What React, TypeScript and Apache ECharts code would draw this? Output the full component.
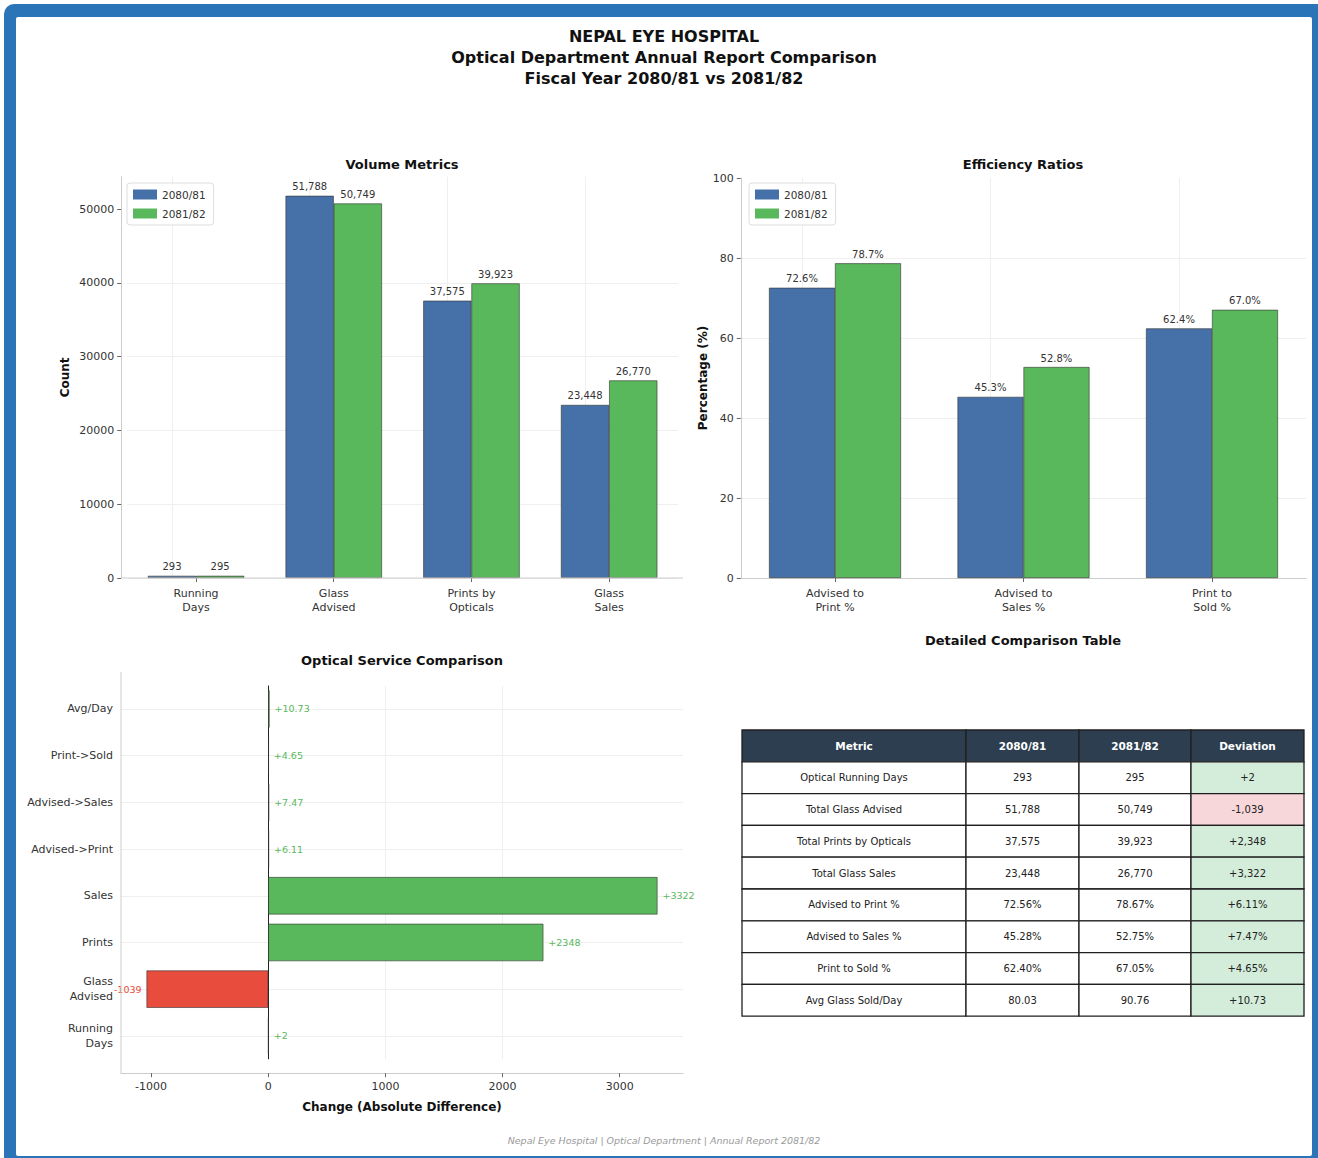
import React, { useEffect, useRef } from "react";
import * as echarts from "echarts";

const FONT = "DejaVu Sans";

// ---- Volume Metrics ----
const volumeCategories = ["Running\nDays", "Glass\nAdvised", "Prints by\nOpticals", "Glass\nSales"];
const volume2080 = [293, 51788, 37575, 23448];
const volume2081 = [295, 50749, 39923, 26770];
const volumeTicks = [0, 10000, 20000, 30000, 40000, 50000];

// ---- Efficiency Ratios ----
const ratioCategories = ["Advised to\nPrint %", "Advised to\nSales %", "Print to\nSold %"];
const ratio2080 = [72.56, 45.28, 62.4];
const ratio2081 = [78.67, 52.75, 67.05];
const ratioTicks = [0, 20, 40, 60, 80, 100];

// ---- Optical Service Comparison ----
const changeCategories = [
  "Running\nDays",
  "Glass\nAdvised",
  "Prints",
  "Sales",
  "Advised->Print",
  "Advised->Sales",
  "Print->Sold",
  "Avg/Day",
];
const changeValues = [2, -1039, 2348, 3322, 6.11, 7.47, 4.65, 10.73];
const changeTicks = [-1000, 0, 1000, 2000, 3000];

// ---- Detailed Comparison Table ----
const tableHeader = ["Metric", "2080/81", "2081/82", "Deviation"];
const tableMetrics = [
  "Optical Running Days",
  "Total Glass Advised",
  "Total Prints by Opticals",
  "Total Glass Sales",
  "Advised to Print %",
  "Advised to Sales %",
  "Print to Sold %",
  "Avg Glass Sold/Day",
];
const table2080 = ["293", "51,788", "37,575", "23,448", "72.56%", "45.28%", "62.40%", "80.03"];
const table2081 = ["295", "50,749", "39,923", "26,770", "78.67%", "52.75%", "67.05%", "90.76"];
const tableDeviation = ["+2", "-1,039", "+2,348", "+3,322", "+6.11%", "+7.47%", "+4.65%", "+10.73"];

const BLUE = "#4670a8";
const GREEN = "#5ab85c";
const RED = "#e74c3c";
const AXIS_GRAY = "#cccccc";
const GRID_GRAY = "#efefef";
const TEXT = "#333333";

function buildTable() {
  const colX = [742, 966, 1079, 1191, 1304];
  const top = 730;
  const rowH = 31.8;
  const els: any[] = [];
  const rows = [tableHeader].concat(
    tableMetrics.map((m, i) => [m, table2080[i], table2081[i], tableDeviation[i]])
  );
  rows.forEach((row, r) => {
    row.forEach((txt, c) => {
      let fill = "#ffffff";
      if (r === 0) fill = "#2c3e50";
      else if (c === 3) fill = txt.startsWith("-") ? "#f8d7da" : "#d4edda";
      const x = colX[c];
      const w = colX[c + 1] - colX[c];
      const y = top + r * rowH;
      els.push({
        type: "rect",
        shape: { x, y, width: w, height: rowH },
        style: { fill, stroke: "#1f1f1f", lineWidth: 1.3 },
        z: 5,
      });
      els.push({
        type: "text",
        x: x + w / 2,
        y: y + rowH / 2,
        style: {
          text: txt,
          align: "center",
          verticalAlign: "middle",
          fill: r === 0 ? "#ffffff" : "#222222",
          fontFamily: FONT,
          fontSize: r === 0 ? 10.5 : 10,
          fontWeight: r === 0 ? "bold" : "normal",
        },
        z: 6,
      });
    });
  });
  return els;
}

function titleText(text: string, x: number, y: number, size: number, extra: any = {}) {
  return {
    type: "text",
    x,
    y,
    z: 10,
    style: {
      text,
      align: "center",
      verticalAlign: "middle",
      fill: "#111111",
      fontFamily: FONT,
      fontSize: size,
      fontWeight: "bold",
      ...extra,
    },
  };
}

function gridMarkLine(axis: "xAxis" | "yAxis", cats: string[]) {
  return {
    silent: true,
    symbol: "none",
    z: 1,
    label: { show: false },
    lineStyle: { color: GRID_GRAY, type: "solid", width: 1 },
    data: cats.map((c) => ({ [axis]: c })),
  };
}

const plainNum = (v: any) => String(v);
const tickLabel = { color: TEXT, fontFamily: FONT, fontSize: 11, formatter: plainNum };
const catLabel = { color: TEXT, fontFamily: FONT, fontSize: 11 };
const barLabel = { show: true, position: "top", distance: 4, color: TEXT, fontFamily: FONT, fontSize: 10 };

const legendBase = {
  top: 183,
  orient: "vertical",
  data: ["2080/81", "2081/82"],
  icon: "rect",
  itemWidth: 24,
  itemHeight: 10,
  itemGap: 8,
  itemStyle: { borderWidth: 0 },
  backgroundColor: "#ffffff",
  borderColor: "#dddddd",
  borderWidth: 1,
  borderRadius: 3,
  padding: [6, 8, 6, 6],
  textStyle: { color: TEXT, fontFamily: FONT, fontSize: 10.5 },
};

function buildOption() {
  return {
    animation: false,
    backgroundColor: "#ffffff",
    textStyle: { fontFamily: FONT },
    grid: [
      { left: 127.2, top: 176.7, width: 550.8, height: 401.3 },
      { left: 740.75, top: 178, width: 565.5, height: 400 },
      { left: 121, top: 685.6, width: 562, height: 373.6 },
    ],
    legend: [
      { ...legendBase, left: 127 },
      { ...legendBase, left: 749 },
    ],
    xAxis: [
      {
        type: "category",
        gridIndex: 0,
        data: volumeCategories,
        axisLine: { show: false },
        axisTick: { show: true, alignWithLabel: true, length: 4, lineStyle: { color: "#666" } },
        axisLabel: { ...catLabel, margin: 8, lineHeight: 14 },
        splitLine: { show: false },
      },
      {
        type: "category",
        gridIndex: 1,
        data: ratioCategories,
        axisLine: { show: true, lineStyle: { color: AXIS_GRAY } },
        axisTick: { show: true, alignWithLabel: true, length: 4, lineStyle: { color: "#666" } },
        axisLabel: { ...catLabel, margin: 8, lineHeight: 14 },
        splitLine: { show: false },
      },
      {
        type: "value",
        gridIndex: 2,
        min: -1257,
        max: 3540,
        offset: 14,
        name: "Change (Absolute Difference)",
        nameLocation: "middle",
        nameGap: 28,
        nameTextStyle: { color: "#111", fontFamily: FONT, fontSize: 12, fontWeight: "bold" },
        axisLine: { show: true, lineStyle: { color: AXIS_GRAY } },
        axisTick: { show: true, length: 4, lineStyle: { color: "#666" }, customValues: changeTicks },
        axisLabel: { ...tickLabel, margin: 8, customValues: changeTicks },
        splitLine: { show: true, showMinLine: false, showMaxLine: false, lineStyle: { color: GRID_GRAY } },
      },
    ],
    yAxis: [
      {
        type: "value",
        gridIndex: 0,
        min: 0,
        max: 54377,
        interval: 10000,
        offset: 6,
        name: "Count",
        nameLocation: "middle",
        nameGap: 50,
        nameTextStyle: { color: "#111", fontFamily: FONT, fontSize: 12, fontWeight: "bold" },
        axisLine: { show: true, lineStyle: { color: AXIS_GRAY } },
        axisTick: { show: true, length: 4, lineStyle: { color: "#666" }, customValues: volumeTicks },
        axisLabel: { ...tickLabel, margin: 7, customValues: volumeTicks },
        splitLine: { show: true, showMaxLine: false, lineStyle: { color: GRID_GRAY } },
      },
      {
        type: "value",
        gridIndex: 1,
        min: 0,
        max: 100,
        interval: 20,
        name: "Percentage (%)",
        nameLocation: "middle",
        nameGap: 32,
        nameTextStyle: { color: "#111", fontFamily: FONT, fontSize: 12, fontWeight: "bold" },
        axisLine: { show: true, lineStyle: { color: AXIS_GRAY } },
        axisTick: { show: true, length: 4, lineStyle: { color: "#666" }, customValues: ratioTicks },
        axisLabel: { ...tickLabel, margin: 7, customValues: ratioTicks },
        splitLine: { show: true, showMaxLine: false, lineStyle: { color: GRID_GRAY } },
      },
      {
        type: "category",
        gridIndex: 2,
        data: changeCategories,
        axisLine: { show: false },
        axisTick: { show: true, alignWithLabel: true, length: 4, lineStyle: { color: "#666" } },
        axisLabel: { ...catLabel, margin: 8, lineHeight: 15 },
        splitLine: { show: false },
      },
    ],
    series: [
      {
        type: "bar",
        name: "2080/81",
        xAxisIndex: 0,
        yAxisIndex: 0,
        data: volume2080,
        barWidth: "35%",
        barGap: "0%",
        z: 2,
        itemStyle: { color: BLUE, borderColor: "#333", borderWidth: 0.6 },
        label: { ...barLabel, formatter: (p: any) => Number(p.value).toLocaleString("en-US") },
        markLine: gridMarkLine("xAxis", volumeCategories),
      },
      {
        type: "bar",
        name: "2081/82",
        xAxisIndex: 0,
        yAxisIndex: 0,
        data: volume2081,
        barWidth: "35%",
        barGap: "0%",
        z: 2,
        itemStyle: { color: GREEN, borderColor: "#333", borderWidth: 0.6 },
        label: { ...barLabel, formatter: (p: any) => Number(p.value).toLocaleString("en-US") },
      },
      {
        type: "bar",
        name: "2080/81",
        xAxisIndex: 1,
        yAxisIndex: 1,
        data: ratio2080,
        barWidth: "35%",
        barGap: "0%",
        z: 2,
        itemStyle: { color: BLUE, borderColor: "#333", borderWidth: 0.6 },
        label: { ...barLabel, formatter: (p: any) => Number(p.value).toFixed(1) + "%" },
        markLine: gridMarkLine("xAxis", ratioCategories),
      },
      {
        type: "bar",
        name: "2081/82",
        xAxisIndex: 1,
        yAxisIndex: 1,
        data: ratio2081,
        barWidth: "35%",
        barGap: "0%",
        z: 2,
        itemStyle: { color: GREEN, borderColor: "#333", borderWidth: 0.6 },
        label: { ...barLabel, formatter: (p: any) => Number(p.value).toFixed(1) + "%" },
      },
      {
        type: "bar",
        name: "Change",
        xAxisIndex: 2,
        yAxisIndex: 2,
        barWidth: "80%",
        z: 2,
        data: changeValues.map((v) => ({
          value: v,
          itemStyle: { color: v >= 0 ? GREEN : RED },
          label: { position: v >= 0 ? "right" : "left", color: v >= 0 ? GREEN : RED },
        })),
        itemStyle: { borderColor: "#333", borderWidth: 0.6 },
        label: {
          show: true,
          distance: 5,
          fontFamily: FONT,
          fontSize: 9.5,
          formatter: (p: any) => (p.value > 0 ? "+" + p.value : String(p.value)),
        },
        markLine: {
          silent: true,
          symbol: "none",
          z: 1,
          label: { show: false },
          lineStyle: { color: GRID_GRAY, type: "solid", width: 1 },
          data: [
            ...changeCategories.map((c) => ({ yAxis: c })),
            { xAxis: 0, lineStyle: { color: "#222222", type: "solid", width: 1 } },
          ],
        },
      },
    ],
    graphic: [
      {
        type: "rect",
        z: -20,
        shape: { x: 4, y: 4, width: 1340, height: 1180, r: 10 },
        style: { fill: "#2b74b8" },
      },
      {
        type: "rect",
        z: -19,
        shape: { x: 16, y: 17, width: 1296, height: 1139, r: 2 },
        style: { fill: "#ffffff" },
      },
      {
        type: "text",
        x: 664,
        y: 26,
        z: 10,
        style: {
          text: "NEPAL EYE HOSPITAL\nOptical Department Annual Report Comparison\nFiscal Year 2080/81 vs 2081/82",
          align: "center",
          verticalAlign: "top",
          fill: "#111111",
          fontFamily: FONT,
          fontSize: 16,
          fontWeight: "bold",
          lineHeight: 21,
        },
      },
      titleText("Volume Metrics", 402, 164, 13),
      titleText("Efficiency Ratios", 1023, 164, 13),
      titleText("Optical Service Comparison", 402, 660, 13),
      titleText("Detailed Comparison Table", 1023, 640, 13),
      titleText("Nepal Eye Hospital | Optical Department | Annual Report 2081/82", 664, 1140, 9.5, {
        fontWeight: "normal",
        fontStyle: "italic",
        fill: "#999999",
      }),
      {
        type: "line",
        z: 3,
        shape: { x1: 121, y1: 578, x2: 683, y2: 578 },
        style: { stroke: AXIS_GRAY, lineWidth: 1 },
      },
      {
        type: "line",
        z: 3,
        shape: { x1: 121, y1: 672, x2: 121, y2: 1073 },
        style: { stroke: AXIS_GRAY, lineWidth: 1 },
      },
      ...buildTable(),
    ],
  };
}

export default function App() {
  const ref = useRef<HTMLDivElement>(null);
  useEffect(() => {
    if (!ref.current) return;
    const chart = echarts.init(ref.current, null, { renderer: "svg" });
    chart.setOption(buildOption() as any);
    return () => chart.dispose();
  }, []);
  return (
    <div
      ref={ref}
      style={{ position: "absolute", left: 0, top: 0, width: 1318, height: 1158, background: "#ffffff" }}
    />
  );
}
